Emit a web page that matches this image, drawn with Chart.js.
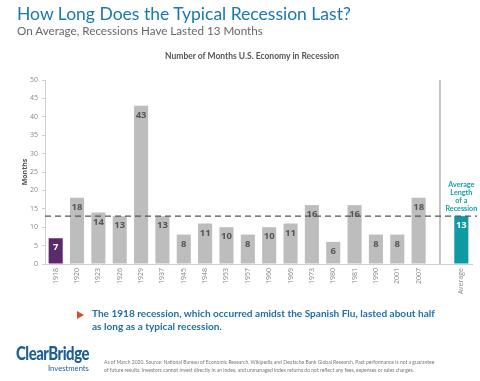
<!DOCTYPE html>
<html><head><meta charset="utf-8">
<script src="https://cdn.jsdelivr.net/npm/chart.js@4"></script>
<style>
html,body{margin:0;padding:0;background:#fff;width:480px;height:381px;overflow:hidden;font-family:Lato,"Open Sans",sans-serif}
#wrap{position:absolute;left:0;top:0;width:480px;height:381px}
.t{position:absolute;white-space:nowrap}
</style></head><body>
<div id="wrap"><canvas id="c" width="480" height="381"></canvas></div>
<div class="t fit" data-w="334" style="left:17px;top:3px;font-size:18px;color:#1a78ad;">How Long Does the Typical Recession Last?</div>
<div class="t fit" data-w="246" style="left:17px;top:24px;font-size:12px;color:#666;">On Average, Recessions Have Lasted 13 Months</div>
<div class="t" style="left:0;width:504px;text-align:center;top:51px;font-size:8.5px;font-weight:bold;color:#555;">Number of Months U.S. Economy in Recession</div>
<div class="t" style="left:77px;top:311px;width:0;height:0;border-top:4px solid transparent;border-bottom:4px solid transparent;border-left:7px solid #e4472b;"></div>
<div class="t" style="left:92px;top:307px;line-height:13px;font-weight:bold;color:#1f6ea6;">
  <div class="fit" data-w="343" style="font-size:11px;">The 1918 recession, which occurred amidst the Spanish Flu, lasted about half</div>
  <div id="l2">as long as a typical recession.</div>
</div>
<div class="t scl" data-w="73" style="left:16px;top:342px;font-size:18px;font-weight:900;color:#1d5f95;letter-spacing:-0.6px;transform-origin:0 0;">ClearBridge</div>
<div class="t fit" data-w="41" style="left:48px;top:363px;font-size:7.5px;color:#1d5f95;">Investments</div>
<div class="t" style="left:104px;top:358px;color:#777;line-height:8px;">
  <div class="fit" data-w="331" style="font-size:5px;">As of March 2020. Source: National Bureau of Economic Research, Wikipedia and Deutsche Bank Global Research. Past performance is not a guarantee</div>
  <div class="fit" data-w="310" style="font-size:5px;">of future results. Investors cannot invest directly in an index, and unmanaged index returns do not reflect any fees, expenses or sales charges.</div>
</div>
<script>
const categories = ["1918","1920","1923","1926","1929","1937","1945","1948","1953","1957","1960","1969","1973","1980","1981","1990","2001","2007","","Average"];
const months = [7,18,14,13,43,13,8,11,10,8,10,11,16,6,16,8,8,18,null,13];
const averageMonths = 13;
const yTicks = [0,5,10,15,20,25,30,35,40,45,50];
const averageNote = ["Average","Length","of a","Recession"];

// fit text widths
document.querySelectorAll('.fit').forEach(el=>{
  el.style.display='inline-block';
  const cs = parseFloat(getComputedStyle(el).fontSize);
  const w = el.getBoundingClientRect().width;
  const target = parseFloat(el.dataset.w);
  el.style.fontSize = (cs*target/w).toFixed(2)+'px';
  el.style.display='block';
});
document.getElementById('l2').style.fontSize = document.querySelector('[data-w="343"]').style.fontSize;
document.querySelectorAll('.scl').forEach(el=>{
  const w = el.getBoundingClientRect().width;
  el.style.transform = 'scaleX('+(parseFloat(el.dataset.w)/w).toFixed(3)+')';
});

const barColors = categories.map((c,i)=> i===0 ? "#5b2a6b" : (c==="Average" ? "#0f9aa2" : "#bdbdbd"));
const labelColors = categories.map((c,i)=> (i===0 || c==="Average") ? "#ffffff" : "#555555");

const overlay = {
  id:'overlay',
  afterDatasetsDraw(chart){
    const ctx = chart.ctx, x = chart.scales.x, y = chart.scales.y, a = chart.chartArea;
    const sepIdx = categories.indexOf("");
    const sx = x.getPixelForValue(sepIdx);
    ctx.save();
    ctx.strokeStyle = "#b0b0b0"; ctx.lineWidth = 1.5;
    ctx.beginPath(); ctx.moveTo(sx, y.getPixelForValue(50)); ctx.lineTo(sx, y.getPixelForValue(0)); ctx.stroke();
    const meta = chart.getDatasetMeta(0);
    ctx.font = "bold 9.5px 'Open Sans', sans-serif";
    ctx.textAlign = "center"; ctx.textBaseline = "middle";
    meta.data.forEach((bar,i)=>{
      if (months[i]==null) return;
      ctx.fillStyle = labelColors[i];
      ctx.fillText(String(months[i]), bar.x, bar.y + 9.5);
    });
    const ay = y.getPixelForValue(averageMonths);
    ctx.strokeStyle = "#4a5a55"; ctx.lineWidth = 1.2; ctx.setLineDash([6,4]);
    ctx.beginPath(); ctx.moveTo(a.left, ay); ctx.lineTo(a.right+5, ay); ctx.stroke();
    ctx.setLineDash([]);
    const avIdx = categories.indexOf("Average");
    const ax = x.getPixelForValue(avIdx);
    ctx.fillStyle = "#16a0a8"; ctx.font = "bold 7.2px Lato, sans-serif";
    ctx.textBaseline = "middle";
    averageNote.forEach((s,k)=>{ ctx.fillText(s, ax, ay - 31 + k*8); });
    ctx.restore();
  }
};

new Chart(document.getElementById('c'), {
  type:'bar',
  data:{ labels:categories, datasets:[{ data:months, backgroundColor:barColors, borderWidth:0, barPercentage:0.66, categoryPercentage:1 }]},
  options:{
    responsive:false, animation:false, devicePixelRatio:1,
    layout:{ padding:{ left:21, top:80, right:8, bottom:0 } },
    plugins:{ legend:{display:false}, tooltip:{enabled:false}, title:{display:false} },
    scales:{
      x:{
        grid:{ display:false, drawTicks:false },
        border:{ display:true, color:"#cfcfcf", width:1 },
        ticks:{ color:"#888", font:{ size:7, family:"'Open Sans', sans-serif" }, minRotation:90, maxRotation:90, padding:4, autoSkip:false },
        afterFit(s){ s.height = 117; }
      },
      y:{
        min:0, max:50,
        afterBuildTicks(s){ s.ticks = yTicks.map(v=>({value:v})); },
        grid:{ display:true, drawOnChartArea:false, drawTicks:true, tickLength:3, color:"#cfcfcf" },
        border:{ display:true, color:"#cfcfcf", width:1 },
        ticks:{ color:"#888", font:{ size:7, family:"'Open Sans', sans-serif" }, padding:4 },
        title:{ display:true, text:"Months", color:"#555", font:{ size:7, weight:"bold", family:"'Open Sans', sans-serif" }, padding:{top:0,bottom:0} },
        afterFit(s){ s.width = 24; }
      }
    }
  },
  plugins:[overlay]
});
</script>
</body></html>
